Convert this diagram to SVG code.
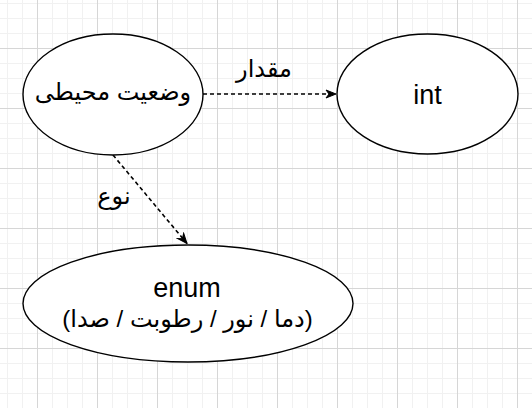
<svg xmlns="http://www.w3.org/2000/svg" width="532" height="408" viewBox="0 0 532 408">
  <style>
    .node ellipse { fill: #ffffff; stroke: #000000; stroke-width: 1.4; }
    .lat { font-family: "Liberation Sans", Arial, sans-serif; font-size: 27px; fill: #000000; text-anchor: middle; }
    .ar { font-family: "Liberation Sans", "DejaVu Sans", sans-serif; font-size: 24px; fill: #000000; text-anchor: middle; }
    .edge { fill: none; stroke: #000000; stroke-width: 1.6; stroke-dasharray: 4 3; }
  </style>
  <defs>
    <pattern id="grid" x="37" y="48" width="60" height="60" patternUnits="userSpaceOnUse">
      <path d="M15.5 0V60M30.5 0V60M45.5 0V60M0 15.5H60M0 30.5H60M0 45.5H60" stroke="#f1f1f1" stroke-width="1" fill="none"/>
      <path d="M0.5 0V60M0 0.5H60" stroke="#d6d6d6" stroke-width="1" fill="none"/>
    </pattern>
    <marker id="arrow" markerUnits="userSpaceOnUse" markerWidth="12" markerHeight="10" viewBox="0 0 12 10" refX="11" refY="5" orient="auto">
      <path d="M1,1 L11,5 L1,9 L4,5 Z" fill="#000000" stroke="#000000" stroke-width="1"/>
    </marker>
  </defs>
  <rect x="0" y="0" width="532" height="408" fill="#ffffff"/>
  <rect x="0" y="0" width="532" height="408" fill="url(#grid)"/>

  <g id="connectors">
    <g id="edge-meqdar">
      <line class="edge" x1="203" y1="94" x2="336" y2="94" marker-end="url(#arrow)"/>
      <text class="ar" x="264" y="77">مقدار</text>
    </g>
    <g id="edge-now">
      <line class="edge" x1="113" y1="155" x2="187" y2="243.5" marker-end="url(#arrow)"/>
      <text class="ar" x="114" y="204">نوع</text>
    </g>
  </g>

  <g id="node-vaziat" class="node">
    <ellipse cx="113" cy="94.5" rx="90" ry="60.5"/>
    <text class="ar" x="113" y="100">وضعیت محیطی</text>
  </g>

  <g id="node-int" class="node">
    <ellipse cx="427.5" cy="94" rx="90.5" ry="60"/>
    <text class="lat" x="427.5" y="104">int</text>
  </g>

  <g id="node-enum" class="node">
    <ellipse cx="188" cy="303.5" rx="165" ry="58.5"/>
    <text class="lat" x="187" y="297">enum</text>
    <text class="ar" x="187.5" y="327">(دما / نور / رطوبت / صدا)</text>
  </g>
</svg>
